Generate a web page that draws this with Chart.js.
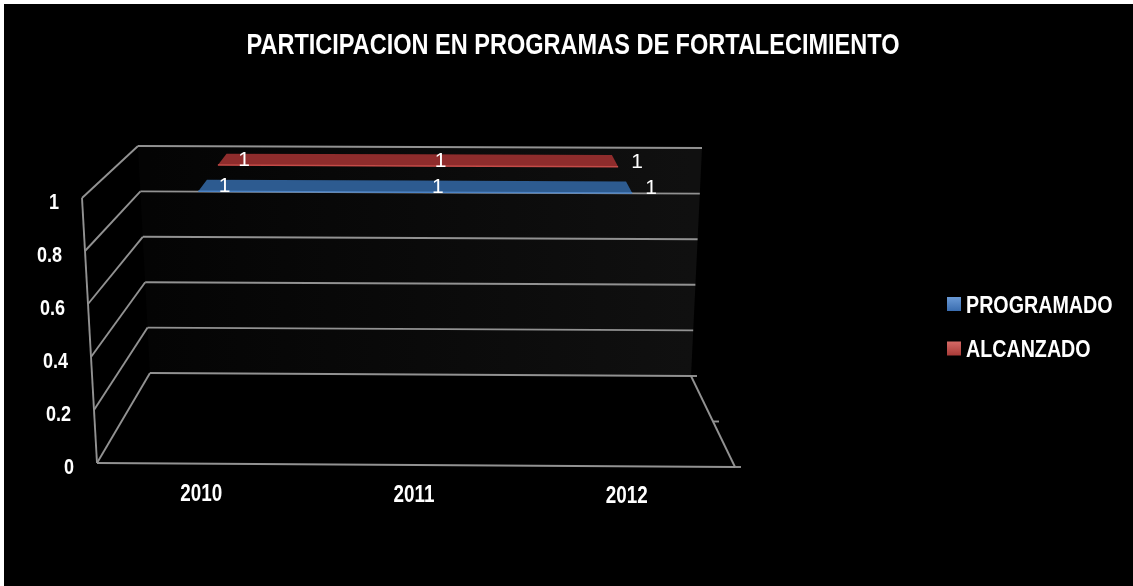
<!DOCTYPE html>
<html lang="es">
<head>
<meta charset="utf-8">
<title>Participación en programas de fortalecimiento</title>
<script src="https://cdn.jsdelivr.net/npm/chart.js@4.4.1/dist/chart.umd.min.js"></script>
<style>
  html, body { margin: 0; padding: 0; background: #fff; }
  body { width: 1133px; height: 586px; overflow: hidden; position: relative; }
  #wrap { position: absolute; left: 4px; top: 4px; width: 1129px; height: 582px; background: #000; }
  canvas { display: block; }
</style>
</head>
<body>
<div id="wrap"><canvas id="chart" width="1129" height="582"></canvas></div>
<script>
// ---- data ----
const chartTitle = 'PARTICIPACION EN PROGRAMAS DE FORTALECIMIENTO';
const years = ['2010', '2011', '2012'];
const programado = [1, 1, 1];
const alcanzado = [1, 1, 1];
const valueTicks = [0, 0.2, 0.4, 0.6, 0.8, 1];
const seriesNames = ['PROGRAMADO', 'ALCANZADO'];

// ---- styling ----
const seriesStyle = [
  { legend: ['#6a9ad6', '#3a6db0'], top: '#2d5b90', edge: '#4d83c4' },
  { legend: ['#d66a66', '#a83a37'], top: '#8e2c2c', edge: '#c44b48' }
];
const gridColor = '#929292';
const SANS = '"Liberation Sans", Arial, sans-serif';
const NARROW_RATIO = 0.82;   // condensed look for the bold captions

// bold condensed caption: regular bold face squeezed horizontally
function narrowText(ctx, text, x, baseline, size, align) {
  ctx.save();
  ctx.font = 'bold ' + size + 'px ' + SANS;
  ctx.textAlign = 'left';
  ctx.textBaseline = 'alphabetic';
  const w = ctx.measureText(text).width * NARROW_RATIO;
  const x0 = align === 'right' ? x - w : align === 'center' ? x - w / 2 : x;
  ctx.translate(x0, baseline);
  ctx.scale(NARROW_RATIO, 1);
  ctx.fillText(text, 0, 0);
  ctx.restore();
}

// 3-D box: u = category axis, v = value axis, w = depth (0 front, 1 back)
function makeProjector(area) {
  const L = area.left, R = area.right, T = area.top, B = area.bottom;
  const C = {
    '000': [L, B - 2],       '100': [R, B + 2],
    '010': [L - 15, T],      '110': [R + 12, T + 3],
    '001': [L + 53, B - 92], '101': [R - 44, B - 89],
    '011': [L + 41, T - 52], '111': [R - 33, T - 50]
  };
  return function (u, v, w) {
    let x = 0, y = 0;
    for (let a = 0; a < 2; a++) for (let b = 0; b < 2; b++) for (let c = 0; c < 2; c++) {
      const k = (a ? u : 1 - u) * (b ? v : 1 - v) * (c ? w : 1 - w);
      const p = C['' + a + b + c];
      x += k * p[0]; y += k * p[1];
    }
    return { x, y };
  };
}

function line(ctx, p, q) {
  ctx.beginPath(); ctx.moveTo(p.x, p.y); ctx.lineTo(q.x, q.y); ctx.stroke();
}

const box3d = {
  id: 'box3d',
  afterDatasetsDraw(chart) {
    const ctx = chart.ctx;
    const area = chart.chartArea;
    const xs = chart.scales.x, ys = chart.scales.y;
    const P = makeProjector(area);
    const U = i => (xs.getPixelForValue(i) - area.left) / (area.right - area.left);
    const V = val => (area.bottom - ys.getPixelForValue(val)) / (area.bottom - area.top);

    ctx.save();

    // back wall
    const b0 = P(0, 0, 1), b1 = P(1, 0, 1), b2 = P(1, 1, 1), b3 = P(0, 1, 1);
    const g = ctx.createLinearGradient(b0.x, 0, b1.x, 0);
    g.addColorStop(0, '#040404');
    g.addColorStop(1, '#101010');
    ctx.fillStyle = g;
    ctx.beginPath();
    ctx.moveTo(b0.x, b0.y); ctx.lineTo(b1.x, b1.y); ctx.lineTo(b2.x, b2.y); ctx.lineTo(b3.x, b3.y);
    ctx.closePath(); ctx.fill();

    // gridlines on back wall and side wall
    ctx.strokeStyle = gridColor;
    ctx.lineWidth = 1.9;
    ys.ticks.forEach(t => {
      const v = V(t.value);
      line(ctx, P(0, v, 1), P(1, v, 1));
      line(ctx, P(0, v, 0), P(0, v, 1));
    });
    // front vertical edge
    line(ctx, P(0, 0, 0), P(0, 1, 0));
    // floor front and right edges
    line(ctx, P(0, 0, 0), P(1, 0, 0));
    line(ctx, P(1, 0, 0), P(1, 0, 1));
    // depth axis ticks
    [0, 0.5, 1].forEach(w => {
      const p = P(1, 0, w);
      line(ctx, p, { x: p.x + 6, y: p.y });
    });

    // area tops for each series
    const n = chart.data.datasets.length;
    chart.data.datasets.forEach((ds, s) => {
      const st = seriesStyle[s];
      const wc = (s + 0.5) / n, half = 0.11;
      const front = ds.data.map((val, i) => P(U(i), V(val), wc - half));
      const back = ds.data.map((val, i) => P(U(i), V(val), wc + half));
      ctx.fillStyle = st.top;
      ctx.beginPath();
      front.forEach((p, i) => i ? ctx.lineTo(p.x, p.y) : ctx.moveTo(p.x, p.y));
      back.slice().reverse().forEach(p => ctx.lineTo(p.x, p.y));
      ctx.closePath(); ctx.fill();
      ctx.strokeStyle = st.edge;
      ctx.lineWidth = 1.5;
      ctx.beginPath();
      front.forEach((p, i) => i ? ctx.lineTo(p.x, p.y) : ctx.moveTo(p.x, p.y));
      ctx.stroke();
    });

    // value labels on the areas
    ctx.fillStyle = '#fff';
    ctx.font = '21px ' + SANS;
    ctx.textAlign = 'center';
    ctx.textBaseline = 'middle';
    chart.data.datasets.forEach((ds, s) => {
      const wc = (s + 0.5) / n;
      ds.data.forEach((val, i) => {
        const p = P(U(i), V(val), wc);
        ctx.fillText(String(val), p.x + 22, p.y + 1);
      });
    });

    // value axis labels along the front edge
    ys.ticks.forEach(t => {
      const p = P(0, V(t.value), 0);
      narrowText(ctx, String(t.value), p.x - 23, p.y + 11, 22, 'right');
    });

    // category labels under the floor
    xs.getLabels().forEach((lab, i) => {
      const p = P(U(i), 0, 0);
      narrowText(ctx, lab, p.x - 2, p.y + 37, 23, 'center');
    });

    // title
    narrowText(ctx, chartTitle, 569, 49.5, 28.7, 'center');

    // legend
    chart.data.datasets.forEach((ds, s) => {
      const cy = 300 + s * 44.5;
      const lg = ctx.createLinearGradient(0, cy - 7, 0, cy + 7);
      lg.addColorStop(0, seriesStyle[s].legend[0]);
      lg.addColorStop(1, seriesStyle[s].legend[1]);
      ctx.fillStyle = lg;
      ctx.fillRect(943, cy - 7, 14, 14);
      ctx.fillStyle = '#fff';
      narrowText(ctx, ds.label, 962, cy + 8.5, 24, 'left');
    });

    ctx.restore();
  }
};

new Chart(document.getElementById('chart'), {
  type: 'line',
  data: {
    labels: years,
    datasets: [
      { label: seriesNames[0], data: programado, showLine: false, pointRadius: 0 },
      { label: seriesNames[1], data: alcanzado, showLine: false, pointRadius: 0 }
    ]
  },
  options: {
    responsive: false,
    animation: false,
    events: [],
    layout: { padding: { left: 93, right: 398, top: 194, bottom: 121 } },
    scales: {
      x: { display: false, offset: true },
      y: {
        display: false,
        min: 0,
        max: 1,
        afterBuildTicks: scale => { scale.ticks = valueTicks.map(v => ({ value: v })); }
      }
    },
    plugins: {
      legend: { display: false },
      tooltip: { enabled: false },
      title: { display: false }
    }
  },
  plugins: [box3d]
});
</script>
</body>
</html>
